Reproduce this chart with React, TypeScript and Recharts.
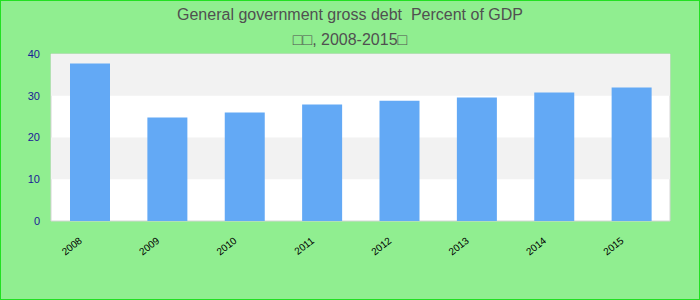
import React from "react";
import { BarChart, Bar, XAxis, YAxis, ReferenceArea } from "recharts";

const years = ["2008", "2009", "2010", "2011", "2012", "2013", "2014", "2015"];
const debt = [37.7, 24.8, 26.0, 27.9, 28.8, 29.6, 30.8, 32.0];
const yTicks = [0, 10, 20, 30, 40];

const data = years.map((y, i) => ({ year: y, value: debt[i] }));

const XTick = (props: any) => {
  const { x, y, payload } = props;
  const ax = x - 7;
  const ay = y + 13;
  return (
    <text
      x={ax}
      y={ay}
      transform={`rotate(-38, ${ax}, ${ay})`}
      textAnchor="end"
      fontSize={10}
      fill="#000"
      fontFamily="Liberation Sans, Arial, sans-serif"
    >
      {payload.value}
    </text>
  );
};

const App: React.FC = () => {
  return (
    <div
      style={{
        position: "absolute",
        left: 0,
        top: 0,
        width: 700,
        height: 300,
        background: "#90EE90",
        border: "1px solid #22e022",
        boxSizing: "border-box",
        fontFamily: "Liberation Sans, Arial, sans-serif",
      }}
    >
      <div
        style={{
          position: "absolute",
          top: 3,
          width: "100%",
          textAlign: "center",
          color: "#505050",
          fontSize: 16,
          lineHeight: "22px",
        }}
      >
        <div>General government gross debt&nbsp;&nbsp;Percent of GDP</div>
        <div style={{ marginTop: 3 }}>□□, 2008-2015□</div>
      </div>
      <div style={{ position: "absolute", left: -1, top: -1 }}>
        <BarChart
          width={700}
          height={300}
          data={data}
          margin={{ top: 54, right: 30, bottom: 0, left: 1 }}
          barCategoryGap={0}
        >
          <ReferenceArea y1={0} y2={40} fill="#ffffff" fillOpacity={1} stroke="#d4d4d4" strokeWidth={1} />
          <ReferenceArea y1={10} y2={20} fill="#f2f2f2" fillOpacity={1} stroke="none" />
          <ReferenceArea y1={30} y2={40} fill="#f2f2f2" fillOpacity={1} stroke="none" />
          <XAxis
            dataKey="year"
            axisLine={false}
            tickLine={false}
            tick={<XTick />}
            interval={0}
            height={79}
          />
          <YAxis
            domain={[0, 40]}
            ticks={yTicks}
            axisLine={false}
            tickLine={false}
            width={50}
            tickMargin={5}
            tick={{ fill: "#1a1a96", fontSize: 11, fontFamily: "Liberation Sans, Arial, sans-serif" }}
          />
          <Bar dataKey="value" fill="#63a9f5" barSize={40} isAnimationActive={false} />
        </BarChart>
      </div>
    </div>
  );
};

export default App;
